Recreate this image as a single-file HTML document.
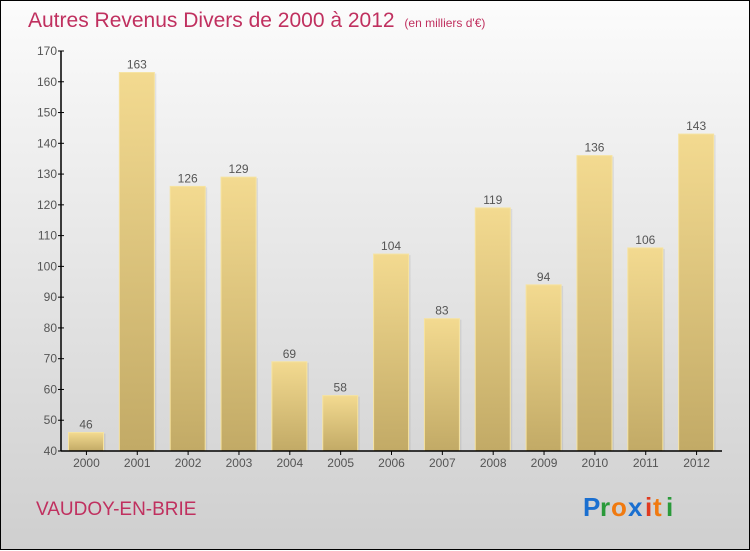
<!DOCTYPE html>
<html><head><meta charset="utf-8"><style>
html,body{margin:0;padding:0;}
body{width:750px;height:550px;overflow:hidden;font-family:"Liberation Sans",sans-serif;}
#wrap{position:relative;width:748px;height:548px;border:1px solid #000;background:linear-gradient(#fcfcfc,#f2f2f2 20%,#cfcfcf);}
svg{position:absolute;left:0;top:0;}
</style></head><body>
<div id="wrap">
<svg id="chart" width="750" height="550">
<defs>
<linearGradient id="bg" x1="0" y1="0" x2="0" y2="1"><stop offset="0" stop-color="#f3da90"/><stop offset="1" stop-color="#c2aa66"/></linearGradient>
</defs>
<text x="27" y="26" font-size="21" fill="#c0305f">Autres Revenus Divers de 2000 à 2012 <tspan font-size="12" dx="4">(en milliers d'€)</tspan></text>
<text x="35" y="514" font-size="19" fill="#c0305f">VAUDOY-EN-BRIE</text>
<g font-size="26" font-weight="bold" font-family="Liberation Sans, sans-serif">
<text x="582" y="515" fill="#1a6fd0">P</text><text x="599" y="515" fill="#2a9a3a">r</text><text x="610" y="515" fill="#f07a10">o</text><text x="627" y="515" fill="#1a6fd0">x</text><text x="644" y="515" fill="#e03a20">i</text><text x="652" y="515" fill="#f07a10">t</text><text x="665" y="515" fill="#2a9a3a">i</text>
</g>
<g id="bars"></g>
<g id="axes"></g>
</svg>
</div>
<script>
const years = ["2000","2001","2002","2003","2004","2005","2006","2007","2008","2009","2010","2011","2012"];
const values = [46,163,126,129,69,58,104,83,119,94,136,106,143];
const yTicks = [40,50,60,70,80,90,100,110,120,130,140,150,160,170];
const NS="http://www.w3.org/2000/svg";
const x0=60,x1=721,yb=450,yt=50,vmin=40,vmax=170;
const band=(x1-x0)/years.length;
function ys(v){return yb-(v-vmin)/(vmax-vmin)*(yb-yt);}
function xs(i){return x0+band*i;}
function mk(t,a,p){const e=document.createElementNS(NS,t);for(const k in a)e.setAttribute(k,a[k]);p.appendChild(e);return e;}
const bars=document.getElementById('bars'),axes=document.getElementById('axes');
values.forEach((v,i)=>{
  const x=xs(i)+7.5,w=35,y=ys(v);
  const sh=mk('rect',{x:x+2,y:y+1,width:w,height:yb-y-1,fill:'#000','fill-opacity':0.07},bars);
  
  
  const r=mk('rect',{x:x,y:y,width:w,height:yb-y,fill:'url(#bg)',stroke:'#f6e3a0','stroke-width':1},bars);
  
  
  const t=mk('text',{x:x+w/2,y:y-4,'font-size':12,'text-anchor':'middle',fill:'#555'},bars);
  t.textContent=v;
  
  
  const xl=mk('text',{x:xs(i)+band/2,y:466,'font-size':12,'text-anchor':'middle',fill:'#555'},axes);
  xl.textContent=years[i];
  
  
  const tk=mk('line',{x1:xs(i)+band/2,x2:xs(i)+band/2,y1:yb,y2:yb+4,stroke:'#000'},axes);
  
  
});
yTicks.forEach(v=>{
  const y=ys(v);
  const l=mk('line',{x1:x0-3,x2:x0+3,y1:y,y2:y,stroke:'#000'},axes);
  
  
  const t=mk('text',{x:x0-4,y:y+4,'font-size':12,'text-anchor':'end',fill:'#555'},axes);
  t.textContent=v;
  
  
});
const ya=mk('line',{x1:x0,x2:x0,y1:yt,y2:yb,stroke:'#000','stroke-width':1.5},axes);


const xa=mk('line',{x1:x0,x2:x1,y1:yb,y2:yb,stroke:'#000','stroke-width':1.5},axes);


</script>
</body></html>
